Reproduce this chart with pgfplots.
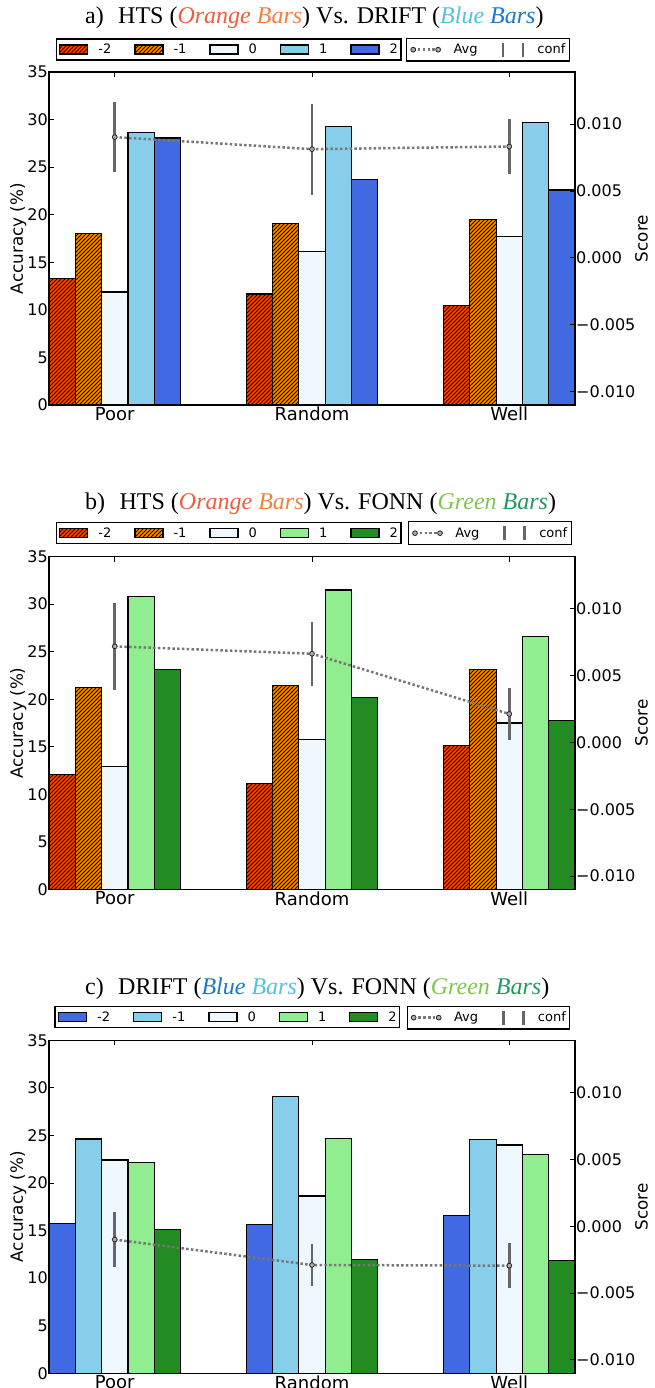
\documentclass[border=0pt]{standalone}
\usepackage{pgfplots}
\pgfplotsset{compat=1.18}
\usepackage{pgfplotstable}
\usepackage{fontspec}
\setmainfont{DejaVu Sans}
\newfontfamily\titlefont{Liberation Serif}
\usetikzlibrary{patterns}

\pgfdeclarepatternformonly{hatch}{\pgfqpoint{-1pt}{-1pt}}{\pgfqpoint{5pt}{5pt}}{\pgfqpoint{4pt}{4pt}}{%
  \pgfsetlinewidth{0.9pt}%
  \pgfpathmoveto{\pgfqpoint{0pt}{0pt}}%
  \pgfpathlineto{\pgfqpoint{4.1pt}{4.1pt}}%
  \pgfusepath{stroke}}

\definecolor{cred}{HTML}{FF4500}
\definecolor{corange}{HTML}{FF8C00}
\definecolor{calice}{HTML}{F0F8FF}
\definecolor{csky}{HTML}{87CEEB}
\definecolor{croyal}{HTML}{4169E1}
\definecolor{clgreen}{HTML}{90EE90}
\definecolor{cfgreen}{HTML}{228B22}
\definecolor{cavg}{HTML}{777777}
\definecolor{cconf}{HTML}{666666}
\definecolor{tcoral}{HTML}{EE5E3E}
\definecolor{torange}{HTML}{F08040}
\definecolor{tlblue}{HTML}{4FC3E0}
\definecolor{tdblue}{HTML}{1A78C8}
\definecolor{tlgreen}{HTML}{7DC84B}
\definecolor{tdgreen}{HTML}{1E9A5A}

% ---------- data ----------
\pgfplotstableread{
x m2 m1 z p1 p2
0 13.30 18.05 11.88 28.60 28.06
1 11.67 19.10 16.10 29.30 23.70
2 10.44 19.50 17.70 29.70 22.60
}\barsA
\pgfplotstableread{
x y ep em
0 0.00903 0.00262 0.00259
1 0.00813 0.00340 0.00341
2 0.00833 0.00207 0.00209
}\scoreA
\pgfplotstableread{
x m2 m1 z p1 p2
0 12.12 21.25 12.93 30.78 23.09
1 11.17 21.46 15.74 31.48 20.20
2 15.10 23.12 17.50 26.60 17.74
}\barsB
\pgfplotstableread{
x y ep em
0 0.00718 0.00325 0.00323
1 0.00663 0.00240 0.00243
2 0.00213 0.00192 0.00198
}\scoreB
\pgfplotstableread{
x m2 m1 z p1 p2
0 15.77 24.63 22.42 22.18 15.10
1 15.66 29.07 18.64 24.70 11.98
2 16.60 24.60 24.00 23.02 11.84
}\barsC
\pgfplotstableread{
x y ep em
0 -0.00100 0.00203 0.00208
1 -0.00290 0.00157 0.00158
2 -0.00295 0.00167 0.00168
}\scoreC

\pgfplotsset{
  every axis/.append style={font=\fontsize{16}{19}\selectfont},
  base/.style={
    scale only axis, width=526pt, height=333pt, anchor=south west,
    xmin=-0.33333, xmax=2.33333,
    /pgf/number format/assume math mode=true,
    scaled y ticks=false, scaled x ticks=false,
    tick align=inside, major tick length=5pt,
    axis line style={line width=1.1pt},
    every tick/.style={black, line width=0.9pt},
    clip=false,
  },
  barax/.style={base,
    ymin=0, ymax=35, ytick={0,5,...,35},
    xtick={0,1,2}, xticklabels={Poor,Random,Well},
    xtick pos=both, ytick pos=left,
    ylabel={Accuracy (\%)},
    ylabel style={at={(axis description cs:-0.0584,0.5)}, anchor=center, font=\fontsize{16.8}{19}\selectfont},
    yticklabel style={inner xsep=1pt},
    xticklabel style={inner ysep=2pt, font=\fontsize{18}{21}\selectfont},
    legend columns=5,
    legend style={anchor=south west, draw=black, line width=1.2pt,
      font=\fontsize{13}{15}\selectfont, inner xsep=3pt, inner ysep=3pt,
      nodes={inner xsep=0pt},
      /tikz/every odd column/.append style={column sep=10pt},
      /tikz/every even column/.append style={column sep=23pt}},
  },
  scoreax/.style={base,
    axis y line*=right, axis x line=none,
    ymin=-0.011, ymax=0.0139,
    ytick={-0.01,-0.005,0,0.005,0.01},
    yticklabels={−0.010,−0.005,0.000,0.005,0.010},
    yticklabel style={inner xsep=1pt},
    ylabel={Score},
    ylabel style={at={(axis description cs:1.1264,0.5)}, anchor=center, font=\fontsize{16.8}{19}\selectfont},
    legend columns=2,
    legend style={anchor=south west, draw=black, line width=1.2pt,
      font=\fontsize{13}{15}\selectfont, inner xsep=4pt, inner ysep=3pt,
      nodes={inner xsep=0pt},
      /tikz/every odd column/.append style={column sep=13pt},
      /tikz/every even column/.append style={column sep=24pt}},
  },
  mybar/.style={ybar, bar width=0.13333, bar shift=0pt, draw=black, line width=1.2pt,
    legend image code/.code={\draw[##1, line width=1.2pt] (0pt,-4.5pt) rectangle (28pt,4.5pt);}},
  hatched/.style={mybar, fill=#1, postaction={pattern=hatch}},
  plain/.style={mybar, fill=#1},
  avgline/.style={cavg, line width=2.5pt, dash pattern=on 2.5pt off 2.3pt,
    mark=*, mark size=2.4pt, mark options={solid, fill=gray!65, draw=black!85, line width=0.8pt},
    legend image code/.code={\draw[##1] plot coordinates {(0pt,0pt) (25pt,0pt)};},
    error bars/.cd, y dir=both, y explicit, error mark=none,
    error bar style={solid, line width=2.8pt, cconf}},
  conflegend/.style={legend image code/.code={\draw[cconf, line width=2.8pt, solid] (0pt,-7pt) -- (0pt,7pt) (20pt,-7pt) -- (20pt,7pt);}},
}
\newcommand{\ttl}{\titlefont\fontsize{24}{28}\selectfont}

\begin{document}
\begin{tikzpicture}
\useasboundingbox (0pt,0pt) rectangle (654pt,-1388pt);

% ================= panel a =================
\node[anchor=base west, inner sep=0pt] at (85pt,-24pt) {\ttl a)\hspace{0.6em}HTS (\textcolor{tcoral}{\itshape Orange} \textcolor{torange}{\itshape Bars}) Vs. DRIFT (\textcolor{tlblue}{\itshape Blue} \textcolor{tdblue}{\itshape Bars})};
\begin{axis}[barax, at={(49pt,-405pt)}, legend style={at={(0.0125,1.034)}}]
\addplot[hatched=cred] table[x expr=\thisrow{x}-0.26667, y=m2] \barsA; \addlegendentry{-2}
\addplot[hatched=corange] table[x expr=\thisrow{x}-0.13333, y=m1] \barsA; \addlegendentry{-1}
\addplot[plain=calice] table[x=x, y=z] \barsA; \addlegendentry{0}
\addplot[plain=csky] table[x expr=\thisrow{x}+0.13333, y=p1] \barsA; \addlegendentry{1}
\addplot[plain=croyal] table[x expr=\thisrow{x}+0.26667, y=p2] \barsA; \addlegendentry{2}
\end{axis}
\begin{axis}[scoreax, at={(49pt,-405pt)}, legend style={at={(0.679,1.031)}}]
\addplot[avgline] table[x=x, y=y, y error plus=ep, y error minus=em] \scoreA; \addlegendentry{Avg}
\addlegendimage{conflegend} \addlegendentry{conf}
\end{axis}

% ================= panel b =================
\node[anchor=base west, inner sep=0pt] at (85pt,-509pt) {\ttl b)\hspace{0.6em}HTS (\textcolor{tcoral}{\itshape Orange} \textcolor{torange}{\itshape Bars}) Vs. FONN (\textcolor{tlgreen}{\itshape Green} \textcolor{tdgreen}{\itshape Bars})};
\begin{axis}[barax, at={(49pt,-889.5pt)}, legend style={at={(0.0125,1.037)}}]
\addplot[hatched=cred] table[x expr=\thisrow{x}-0.26667, y=m2] \barsB; \addlegendentry{-2}
\addplot[hatched=corange] table[x expr=\thisrow{x}-0.13333, y=m1] \barsB; \addlegendentry{-1}
\addplot[plain=calice] table[x=x, y=z] \barsB; \addlegendentry{0}
\addplot[plain=clgreen] table[x expr=\thisrow{x}+0.13333, y=p1] \barsB; \addlegendentry{1}
\addplot[plain=cfgreen] table[x expr=\thisrow{x}+0.26667, y=p2] \barsB; \addlegendentry{2}
\end{axis}
\begin{axis}[scoreax, at={(49pt,-889.5pt)}, legend style={at={(0.6825,1.034)}}]
\addplot[avgline] table[x=x, y=y, y error plus=ep, y error minus=em] \scoreB; \addlegendentry{Avg}
\addlegendimage{conflegend} \addlegendentry{conf}
\end{axis}

% ================= panel c =================
\node[anchor=base west, inner sep=0pt] at (85pt,-994pt) {\ttl c)\hspace{0.6em}DRIFT (\textcolor{tdblue}{\itshape Blue} \textcolor{tlblue}{\itshape Bars}) Vs. FONN (\textcolor{tlgreen}{\itshape Green} \textcolor{tdgreen}{\itshape Bars})};
\begin{axis}[barax, at={(49pt,-1373.3pt)}, legend style={at={(0.0103,1.036)}}]
\addplot[plain=croyal] table[x expr=\thisrow{x}-0.26667, y=m2] \barsC; \addlegendentry{-2}
\addplot[plain=csky] table[x expr=\thisrow{x}-0.13333, y=m1] \barsC; \addlegendentry{-1}
\addplot[plain=calice] table[x=x, y=z] \barsC; \addlegendentry{0}
\addplot[plain=clgreen] table[x expr=\thisrow{x}+0.13333, y=p1] \barsC; \addlegendentry{1}
\addplot[plain=cfgreen] table[x expr=\thisrow{x}+0.26667, y=p2] \barsC; \addlegendentry{2}
\end{axis}
\begin{axis}[scoreax, at={(49pt,-1373.3pt)}, legend style={at={(0.68,1.032)}}]
\addplot[avgline] table[x=x, y=y, y error plus=ep, y error minus=em] \scoreC; \addlegendentry{Avg}
\addlegendimage{conflegend} \addlegendentry{conf}
\end{axis}
\end{tikzpicture}
\end{document}
